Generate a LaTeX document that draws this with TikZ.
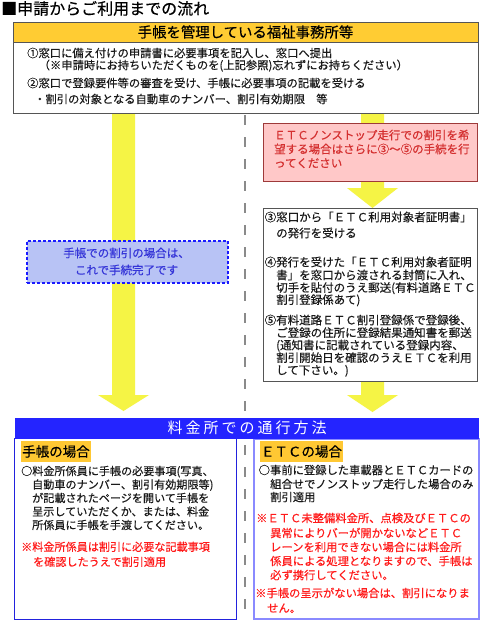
\documentclass[tikz,border=0pt]{standalone}
\usepackage{fontspec}
\setmainfont{Noto Sans CJK JP}[RawFeature={embolden=0.35}]
\newfontfamily\bandfont[LetterSpace=20]{Noto Sans CJK JP}
\usetikzlibrary{calc}
\definecolor{arrowyellow}{HTML}{F5F445}
\definecolor{headyellow}{HTML}{FFCC33}
\definecolor{labelorange}{HTML}{FFC833}
\definecolor{bandblue}{HTML}{2424FF}
\definecolor{leftblue}{HTML}{2222DD}
\definecolor{rightblue}{HTML}{8A8AFF}
\definecolor{pinkfill}{HTML}{FFC8C8}
\definecolor{pinkedge}{HTML}{9E3A3A}
\definecolor{pinktext}{HTML}{D43030}
\definecolor{noteblue}{HTML}{B8C3F5}
\definecolor{noteedge}{HTML}{1A1AFF}
\definecolor{notetext}{HTML}{3535D8}
\definecolor{boxgray}{HTML}{555555}
\definecolor{dashgray}{HTML}{8A8A8A}
\definecolor{bodytext}{HTML}{1A1A1A}
\definecolor{alertred}{HTML}{FF1A1A}
\newcommand\yellowarrow[3]{%
  \fill[arrowyellow] ($(#1)+(-11.5,0)$) -- ($(#1)+(11.5,0)$) -- ($(#2)+(11.5,-#3)$)
    -- ($(#2)+(25.5,-#3)$) -- (#2) -- ($(#2)+(-25.5,-#3)$) -- ($(#2)+(-11.5,-#3)$) -- cycle;}
\begin{document}
\begin{tikzpicture}[x=1pt,y=-1pt,
  topline/.style={anchor=base west, inner sep=0pt, text=bodytext, font=\fontsize{11.3pt}{13pt}\selectfont},
  stepline/.style={anchor=base west, inner sep=0pt, text=bodytext, font=\fontsize{11.5pt}{13pt}\selectfont},
  pinkline/.style={anchor=base west, inner sep=0pt, text=pinktext, font=\fontsize{11.5pt}{13pt}\selectfont},
  leftline/.style={anchor=base west, inner sep=0pt, text=bodytext, font=\fontsize{11.1pt}{13pt}\selectfont},
  leftred/.style={leftline, text=alertred},
  rightline/.style={anchor=base west, inner sep=0pt, text=bodytext, font=\fontsize{11.3pt}{13pt}\selectfont},
  rightred/.style={rightline, text=alertred},
  noteline/.style={inner sep=0pt, text=notetext, font=\fontsize{11.5pt}{13pt}\selectfont},
  framebox/.style={anchor=north west, inner sep=0pt, line width=1pt},
  caselabel/.style={fill=labelorange, inner sep=0pt, minimum height=21pt, text=black, font=\fontsize{13.5pt}{15pt}\selectfont}
]
\useasboundingbox (0,0) rectangle (480,621);
\fill[white] (0,0) rectangle (480,621);

% dashed divider
\coordinate (dA) at (245,115);
\coordinate (dB) at (245,621);
\draw[dashgray, line width=2.2pt, dash pattern=on 10pt off 12pt] (dA) -- (dB);

% yellow block arrows
\coordinate (lA) at (123.5,113);
\coordinate (lB) at (123.5,411);
\coordinate (rA) at (372.5,113);
\coordinate (rB) at (372.5,208);
\coordinate (rC) at (372.5,381);
\coordinate (rD) at (372.5,412);
\yellowarrow{lA}{lB}{16}
\yellowarrow{rA}{rB}{20}
\yellowarrow{rC}{rD}{17}

% title
\node[anchor=base west, inner sep=0pt, font=\fontsize{16pt}{18pt}\selectfont] (title) at (1,14.5) {■申請からご利用までの流れ};

% top office box
\node[framebox, draw=boxgray, fill=white, minimum width=465pt, minimum height=91pt] (office) at (13,22) {};
\node[framebox, draw=boxgray, fill=headyellow, minimum width=465pt, minimum height=20pt] (officehead) at (13,22) {};
\node[inner sep=0pt, font=\fontsize{14.4pt}{16pt}\selectfont] (officetitle) at (245.5,32) {手帳を管理している福祉事務所等};
\node[topline] (o1) at (27,57.3) {①窓口に備え付けの申請書に必要事項を記入し、窓口へ提出};
\node[topline] (o2) at (38.5,69.3) {（※申請時にお持ちいただくものを(上記参照)忘れずにお持ちください）};
\node[topline] (o3) at (27,87.3) {②窓口で登録要件等の審査を受け、手帳に必要事項の記載を受ける};
\node[topline] (o4) at (34,103.3) {・割引の対象となる自動車のナンバー、割引有効期限　等};

% blue note
\node[framebox, fill=noteblue, draw=noteedge, line width=1.5pt, dash pattern=on 3pt off 2pt, minimum width=201pt, minimum height=42pt] (note) at (26,240) {};
\node[noteline] (n1) at (126.5,253) {手帳での割引の場合は、};
\node[noteline] (n2) at (126.5,270) {これで手続完了です};

% pink box
\node[framebox, fill=pinkfill, draw=pinkedge, minimum width=214pt, minimum height=58pt] (pink) at (263,123) {};
\node[pinkline] (p1) at (274,139.4) {ＥＴＣノンストップ走行での割引を希};
\node[pinkline] (p2) at (274,153.4) {望する場合はさらに③〜⑤の手続を行};
\node[pinkline] (p3) at (274,167.4) {ってください};

% steps box
\node[framebox, fill=white, draw=boxgray, minimum width=214pt, minimum height=173pt] (steps) at (263,208) {};
\node[stepline] (s1) at (264.5,221.4) {③窓口から「ＥＴＣ利用対象者証明書」};
\node[stepline] (s2) at (276,237.4) {の発行を受ける};
\node[stepline] (s3) at (264.5,266.4) {④発行を受けた「ＥＴＣ利用対象者証明};
\node[stepline] (s4) at (276,279.4) {書」を窓口から渡される封筒に入れ、};
\node[stepline] (s5) at (276,291.9) {切手を貼付のうえ郵送(有料道路ＥＴＣ};
\node[stepline] (s6) at (276,304) {割引登録係あて)};
\node[stepline] (s7) at (264.5,324.4) {⑤有料道路ＥＴＣ割引登録係で登録後、};
\node[stepline] (s8) at (276,337) {ご登録の住所に登録結果通知書を郵送};
\node[stepline] (s9) at (276,349.4) {(通知書に記載されている登録内容、};
\node[stepline] (s10) at (276,362) {割引開始日を確認のうえＥＴＣを利用};
\node[stepline] (s11) at (276,374.4) {して下さい。)};

% toll booth section
\node[framebox, draw=leftblue, minimum width=222pt, minimum height=181pt] (leftpanel) at (14,438) {};
\node[framebox, draw=rightblue, line width=2pt, minimum width=225pt, minimum height=180pt] (rightpanel) at (253,438) {};
\node[framebox, fill=bandblue, minimum width=464pt, minimum height=21pt] (band) at (14,417) {};
\node[inner sep=0pt, text=white, font=\bandfont\fontsize{15pt}{17pt}\selectfont] (bandtitle) at (247,427.5) {料金所での通行方法};

\node[caselabel, minimum width=70pt] (techo) at (56,451.5) {手帳の場合};
\node[caselabel, minimum width=83pt] (etc) at (301.5,451.5) {ＥＴＣの場合};

\node[leftline] (a1) at (21,475.2) {○料金所係員に手帳の必要事項(写真、};
\node[leftline] (a2) at (32,488.7) {自動車のナンバー、割引有効期限等)};
\node[leftline] (a3) at (32,502.2) {が記載されたページを開いて手帳を};
\node[leftline] (a4) at (32,515.7) {呈示していただくか、または、料金};
\node[leftline] (a5) at (32,529.2) {所係員に手帳を手渡してください。};
\node[leftred] (a6) at (21,551) {※料金所係員は割引に必要な記載事項};
\node[leftred] (a7) at (33,566) {を確認したうえで割引適用};

\node[rightline] (b1) at (258.5,474.3) {○事前に登録した車載器とＥＴＣカードの};
\node[rightline] (b2) at (270,488.3) {組合せでノンストップ走行した場合のみ};
\node[rightline] (b3) at (270,501.3) {割引適用};
\node[rightred] (b4) at (256,522.3) {※ＥＴＣ未整備料金所、点検及びＥＴＣの};
\node[rightred] (b5) at (270,537.3) {異常によりバーが開かないなどＥＴＣ};
\node[rightred] (b6) at (270,551.3) {レーンを利用できない場合には料金所};
\node[rightred] (b7) at (270,565.3) {係員による処理となりますので、手帳は};
\node[rightred] (b8) at (270,579.3) {必ず携行してください。};
\node[rightred] (b9) at (255,597.3) {※手帳の呈示がない場合は、割引になりま};
\node[rightred] (b10) at (267,612.3) {せん。};
\end{tikzpicture}
\end{document}
